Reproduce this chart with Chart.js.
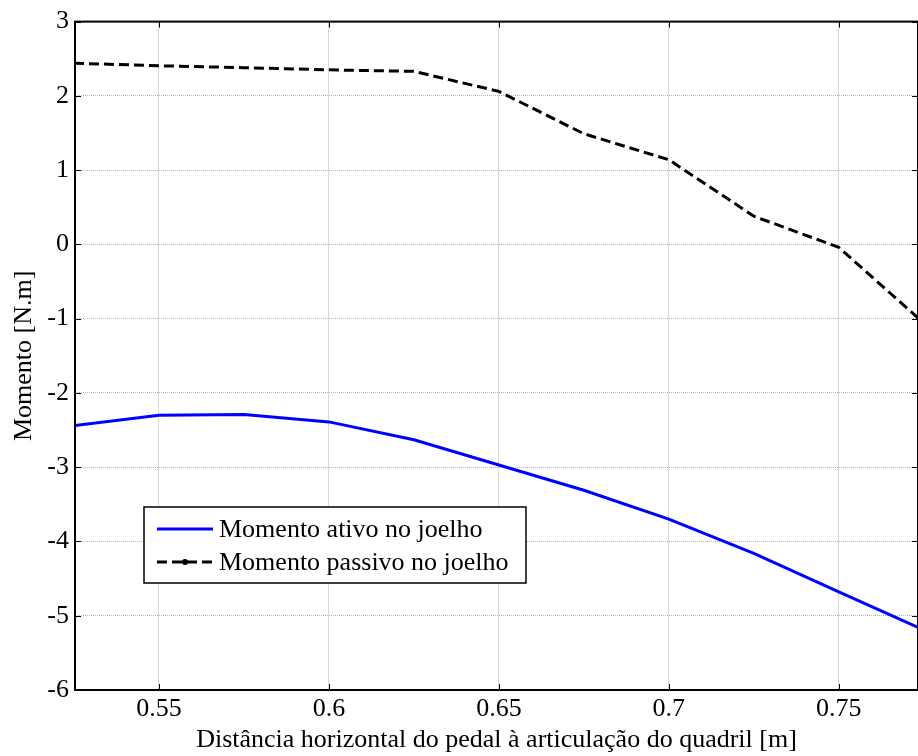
<!DOCTYPE html>
<html lang="pt">
<head>
    <meta charset="UTF-8">
    <title>Momento no joelho</title>
    <script src="https://cdn.jsdelivr.net/npm/chart.js"></script>
    <style>
        html, body { margin: 0; padding: 0; background: #fff; }
        #wrap { width: 918px; height: 756px; }
    </style>
</head>
<body>
<div id="wrap"><canvas id="momentChart" width="918" height="756"></canvas></div>
<script>
    // distância horizontal do pedal (m)
    const distancias = [0.525, 0.55, 0.575, 0.6, 0.625, 0.65, 0.675, 0.7, 0.725, 0.75, 0.775];
    const momentoAtivo = [-2.44, -2.30, -2.29, -2.39, -2.63, -2.97, -3.31, -3.70, -4.16, -4.68, -5.19];
    const momentoPassivo = [2.44, 2.405, 2.38, 2.35, 2.33, 2.06, 1.49, 1.14, 0.38, -0.04, -1.06];
    const xTicks = [0.55, 0.6, 0.65, 0.7, 0.75];
    const yTicks = [-6, -5, -4, -3, -2, -1, 0, 1, 2, 3];

    const FONT = '"Liberation Serif", "Times New Roman", serif';

    const toPoints = ys => distancias.map((x, i) => ({ x: x, y: ys[i] }));

    // caixa estilo matlab: borda nos 4 lados + marcas para dentro
    const boxPlugin = {
        id: 'boxTicks',
        afterDatasetsDraw(chart) {
            const { ctx, chartArea: a, scales } = chart;
            ctx.save();
            ctx.strokeStyle = '#000';
            ctx.lineWidth = 1;
            const len = 6;
            ctx.beginPath();
            xTicks.forEach(v => {
                const px = Math.round(scales.x.getPixelForValue(v)) + 0.5;
                ctx.moveTo(px, a.bottom); ctx.lineTo(px, a.bottom - len);
                ctx.moveTo(px, a.top); ctx.lineTo(px, a.top + len);
            });
            yTicks.forEach(v => {
                const py = Math.round(scales.y.getPixelForValue(v)) + 0.5;
                ctx.moveTo(a.left, py); ctx.lineTo(a.left + len, py);
                ctx.moveTo(a.right, py); ctx.lineTo(a.right - len, py);
            });
            ctx.stroke();
            ctx.lineWidth = 2;
            ctx.strokeRect(a.left, a.top, a.right - a.left, a.bottom - a.top);
            ctx.restore();
        },
        afterDraw(chart) {
            // legenda dentro do gráfico
            const { ctx } = chart;
            const bx = 144, by = 507, bw = 382, bh = 76;
            ctx.save();
            ctx.fillStyle = '#fff';
            ctx.fillRect(bx, by, bw, bh);
            ctx.strokeStyle = '#000';
            ctx.lineWidth = 1.5;
            ctx.strokeRect(bx, by, bw, bh);
            ctx.font = '26px ' + FONT;
            ctx.textBaseline = 'middle';
            ctx.fillStyle = '#000';
            chart.data.datasets.forEach((ds, i) => {
                const y = by + 22 + i * 33;
                ctx.beginPath();
                ctx.strokeStyle = ds.borderColor;
                ctx.lineWidth = ds.borderWidth;
                ctx.setLineDash(ds.borderDash || []);
                ctx.moveTo(157, y); ctx.lineTo(213, y);
                ctx.stroke();
                ctx.setLineDash([]);
                if (ds.borderDash) {
                    ctx.beginPath();
                    ctx.arc(185, y, 3, 0, Math.PI * 2);
                    ctx.fillStyle = ds.borderColor;
                    ctx.fill();
                }
                ctx.fillStyle = '#000';
                ctx.fillText(ds.label, 219, y + 1);
            });
            ctx.restore();
        }
    };

    new Chart(document.getElementById('momentChart'), {
        type: 'line',
        data: {
            datasets: [
                {
                    label: 'Momento ativo no joelho',
                    data: toPoints(momentoAtivo),
                    borderColor: '#0000ff',
                    borderWidth: 3,
                    pointRadius: 0,
                    tension: 0
                },
                {
                    label: 'Momento passivo no joelho',
                    data: toPoints(momentoPassivo),
                    borderColor: '#000000',
                    borderWidth: 3,
                    borderDash: [10, 5],
                    pointRadius: 0,
                    tension: 0
                }
            ]
        },
        options: {
            responsive: false,
            animation: false,
            layout: { padding: { left: 0, right: 0, top: 18, bottom: 0 } },
            plugins: {
                legend: { display: false },
                tooltip: { enabled: false }
            },
            scales: {
                x: {
                    type: 'linear',
                    min: 0.5253,
                    max: 0.7733,
                    afterBuildTicks: s => { s.ticks = xTicks.map(v => ({ value: v })); },
                    afterFit: s => { s.height = 66; },
                    ticks: {
                        color: '#000',
                        font: { family: FONT, size: 26 },
                        padding: 4,
                        maxRotation: 0,
                        callback: v => String(v)
                    },
                    grid: { color: '#b4b4b4', lineWidth: 1, drawTicks: false },
                    border: { display: false, dash: [1, 1] },
                    title: {
                        display: true,
                        text: 'Distância horizontal do pedal à articulação do quadril [m]',
                        color: '#000',
                        font: { family: FONT, size: 26 },
                        padding: { top: 0, bottom: 0 }
                    }
                },
                y: {
                    min: -6,
                    max: 3,
                    afterBuildTicks: s => { s.ticks = yTicks.map(v => ({ value: v })); },
                    afterFit: s => { s.width = 75; },
                    ticks: {
                        color: '#000',
                        font: { family: FONT, size: 26 },
                        padding: 6,
                        callback: v => String(v)
                    },
                    grid: { color: '#b4b4b4', lineWidth: 1, drawTicks: false },
                    border: { display: false, dash: [1, 1] },
                    title: {
                        display: true,
                        text: 'Momento [N.m]',
                        color: '#000',
                        font: { family: FONT, size: 26 },
                        padding: { top: 9, bottom: 0 }
                    }
                }
            }
        },
        plugins: [boxPlugin]
    });
</script>
</body>
</html>
